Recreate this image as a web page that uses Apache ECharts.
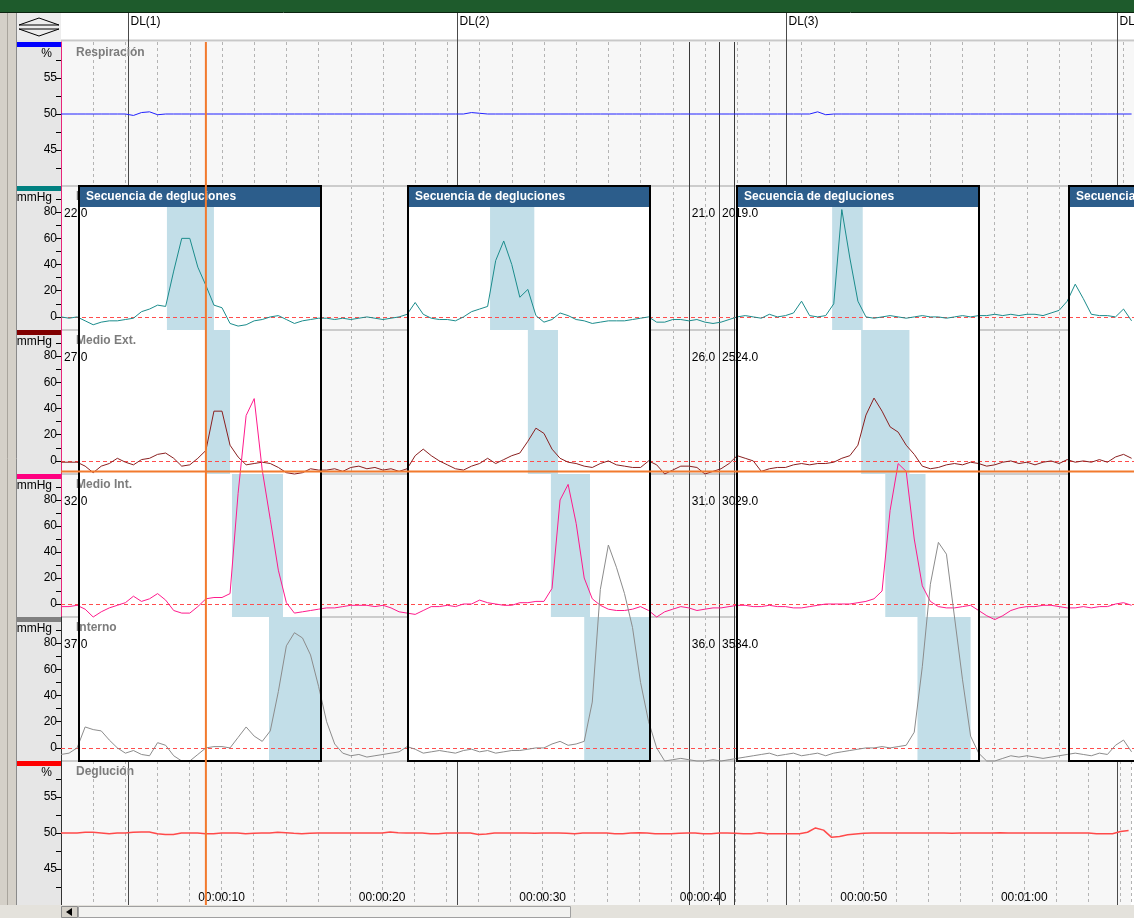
<!DOCTYPE html>
<html><head><meta charset="utf-8">
<script src="https://cdn.jsdelivr.net/npm/echarts@6/dist/echarts.min.js"></script>
<style>html,body{margin:0;padding:0;background:#fff;overflow:hidden}#c{width:1134px;height:918px}</style>
</head><body><div id="c"></div><script>
// ---- sample clock (seconds per sample) ----
const STEP = 0.5;

// ---- series values, one per 0.5 s from t = 0 to 66.5 s ----
const respiracion = [
50,50,50,50,50,50,50,50,50,49.8,
50.2,50.3,49.9,50,50,50,50,50,50,50,
50,50,50,50,50,50,50,50,50,50,
50,50,50,50,50,50,50,50,50,50,
50,50,50,50,50,50,50,50,50,50,
50,50.2,50.1,50,50,50,50,50,50,50,
50,50,50,50,50,50,50,50,50,50,
50,50,50,50,50,50,50,50,50,50,
50,50,50,50,50,50,50,50,50,50,
50,50,50,50,50.3,49.9,50,50,50,50,
50,50,50,50,50,50,50,50,50,50,
50,50,50,50,50,50,50,50,50,50,
50,50,50,50,50,50,50,50,50,50,
50,50,50,50];
const externo = [
0,-1,0,-3,-6,-4,-3,-3,-2,-1,
4,6,9,8,35,60,60,38,24,9,
7,-5,-7,-6,-3,-2,0,1,-2,-5,
-3,-2,-1,-1,-2,-1,-2,-1,0,-1,
-2,-1,0,2,11,2,-1,-2,-2,-3,
0,4,6,8,43,58,40,15,21,1,
-4,-2,3,1,-2,-3,-5,-4,-3,-3,
-3,-2,-1,0,-4,-4,-2,-2,-3,-2,
-4,-5,-4,-2,0,1,0,-1,2,0,
1,3,12,1,0,1,10,82,45,12,
0,-1,0,1,0,-1,0,1,0,0,
-1,0,1,0,1,1,2,1,2,1,
2,2,1,3,5,12,25,14,2,1,
1,0,6,-3];
const medioExt = [
-1,-1,-1,-4,-9,-4,-2,2,-1,-3,
1,2,5,6,2,-4,-3,2,8,38,
38,12,3,-3,-2,-1,-2,-5,-9,-10,
-9,-6,-7,-7,-6,-8,-5,-4,-6,-5,
-7,-6,-8,-6,4,9,4,0,-3,-6,
-7,-4,-2,2,-2,1,4,6,15,25,
21,9,2,-1,-2,-4,-5,-2,0,-3,
-4,-5,-5,0,-3,-10,-7,-4,-4,-5,
-10,-8,-6,-2,4,2,0,-8,-6,-5,
-5,-3,-2,-3,-2,-2,-1,2,4,12,
35,48,38,26,22,12,5,-4,-6,-5,
-3,-2,-3,-1,-2,-4,-3,-1,0,-2,
-1,-3,-1,0,-2,1,-1,0,-1,1,
-1,3,5,2];
const medioInt = [
-2,-2,-1,-4,-10,-6,-3,-1,1,6,
2,4,8,3,-5,-7,-7,-2,4,5,
5,8,85,145,158,103,65,26,1,-7,
-6,-5,-4,-3,-3,-2,-1,-1,-1,-2,
-1,-3,-6,-7,-8,-5,-2,-2,-1,-2,
0,0,3,1,0,-1,-1,1,1,2,
2,12,80,92,62,20,4,-1,-4,-5,
-5,-4,-2,-5,-10,-6,-4,-2,-3,-5,
-4,-3,-3,-2,-1,-1,-2,-2,-1,-2,
-2,-3,-3,-2,-1,0,0,0,0,1,
2,4,10,72,108,102,50,14,2,-2,
-3,-3,-2,-1,-5,-9,-12,-9,-5,-3,
-2,-2,-1,-1,-2,-3,-3,-2,-3,-2,
-2,0,1,-1];
const interno = [
-5,-4,0,16,14,13,6,0,-4,-2,
-5,-6,4,2,-6,-10,-10,-5,0,1,
1,0,8,16,9,5,13,43,78,88,
84,71,47,20,3,-4,-6,-5,-7,-6,
-5,-4,-3,1,-1,-4,-3,-2,-3,-4,
-2,-1,-3,-2,-4,-3,-2,-2,-1,0,
0,3,5,2,3,5,35,121,155,138,
118,92,50,20,0,-10,-9,-8,-9,-10,
-10,-9,-10,-9,-8,-7,-6,-5,-4,-6,
-5,-4,-6,-5,-4,-6,-4,-3,-2,-1,
0,0,1,0,1,2,12,62,125,157,
148,100,52,9,-4,-10,-10,-8,-6,-7,
-6,-7,-8,-7,-6,-5,-4,-5,-6,-4,
-5,2,6,-3];
const deglucion = [
50,50,50,50.1,50.1,50,49.9,50,50,50.1,
50.15,50.15,49.9,49.8,49.8,50,50,50,49.9,49.9,
50,50,50,49.9,49.95,50,50,50.1,50.05,49.95,
49.9,49.95,50,50,50,50,50,50,50,50,
50,50.15,50.05,50,50,50,49.9,49.9,50,50,
50,50,49.8,49.85,50,50,50,50,50,49.95,
50,50,50,49.95,49.9,50,50,50,50,49.9,
49.9,50,50.05,50,49.9,49.9,49.9,49.95,50,50,
49.9,49.9,50,50,49.95,49.9,49.9,50.05,49.9,49.9,
49.9,49.9,49.9,50.1,50.7,50.4,49.4,49.5,49.75,49.85,
49.95,50,50,50,50,50,50,50,50,50,
50,49.95,50,50,50,50,50,50.05,50,50,
50,50,50,50,50,50,50,50,50,49.9,
49.9,49.9,50.2,50.35];

// ---- event times (s) and texts ----
const panelNames = ['Respiración','Externo','Medio Ext.','Medio Int.','Interno','Deglución'];
const panelUnits = ['%','mmHg','mmHg','mmHg','mmHg','%'];
const seqStarts = [1.12, 21.55, 42.0, 62.6];
const seqLen = 15.05;
const seqTitle = 'Secuencia de degluciones';
const dlTimes = [4.16, 24.6, 45.03, 65.59];
const dlLabels = ['DL(1)','DL(2)','DL(3)','DL(4)'];
const cursorTimes = [39.0, 40.87, 41.8];
const cursorLabels = [['21.0','20.0','19.0'],['26.0','25.0','24.0'],['31.0','30.0','29.0'],['36.0','35.0','34.0']];
const leftLabels = ['22.0','27.0','32.0','37.0'];
const orangeTime = 9.0;
const orangeLevelMedioExt = -8;
const shadesExterno = [[6.58,9.5],[26.65,29.4],[47.9,49.8]];
const shadesMedioExt = [[9.0,10.5],[29.0,30.87],[49.7,52.7]];
const shadesMedioInt = [[10.62,13.79],[30.43,32.86],[51.2,53.7]];
const shadesInterno = [[12.92,16.15],[32.5,36.6],[53.2,56.5]];
const pctLabels = [45,50,55];
const mmHgLabels = [0,20,40,60,80];
const timeLabelEvery = 10;

// ---- layout / styles ----
const FF = '"Liberation Sans", Arial, sans-serif';
const tops = [42,186,330,474,617,761];
const heights = [144,144,144,143,144,144];
const barColors = ['#0000ff','#008080','#800000','#ff0080','#808080','#ff0000'];
const lineColors = ['#2020ff','#1b8c8c','#8a1f1f','#ff1a8c','#8c8c8c','#ff4a4a'];
const lineWidths = [1,1,1,1,1,1.5];
const seriesData = [respiracion, externo, medioExt, medioInt, interno, deglucion];
const shadeData = [null, shadesExterno, shadesMedioExt, shadesMedioInt, shadesInterno, null];
const XMAX = 66.65;

const fmtTime = v => {
  const s = Math.round(v);
  const p = n => String(n).padStart(2,'0');
  return '00:' + p(Math.floor(s/60)) + ':' + p(s%60);
};
const toPairs = arr => arr.map((v,k)=>[k*STEP, v]);

const grid = [], xAxis = [], yAxis = [], series = [];
for (let i = 0; i < 6; i++) {
  const pct = (i === 0 || i === 5);
  grid.push({left:61, top:tops[i], width:1073, height:heights[i], show:true, backgroundColor:'#f7f7f7', borderWidth:0, z:0});
  xAxis.push({
    type:'value', gridIndex:i, min:0, max:XMAX, interval:2, z:1,
    axisLine:{show:false}, axisTick:{show:false},
    axisLabel: i === 5 ? {show:true, inside:true, margin:1, color:'#000', fontSize:12, fontFamily:FF,
      formatter: v => (Math.abs(v % timeLabelEvery) < 1e-6 && v > 0) ? fmtTime(v) : ''} : {show:false},
    splitLine:{show:true, lineStyle:{color:'#b4b4b4', type:[3,3], width:1}}
  });
  yAxis.push({
    type:'value', gridIndex:i, z:3,
    min: pct ? 40 : -10, max: pct ? 60 : 100, interval: pct ? 2.5 : 10,
    axisLine:{show:true, lineStyle:{color: i <= 3 ? '#e8267a' : '#333', width:1}},
    axisTick:{show:true, length:5, inside:false, lineStyle:{color:'#000'}},
    axisLabel:{show:true, color:'#000', fontSize:12, fontFamily:FF, margin:4,
      formatter: v => (pct ? pctLabels : mmHgLabels).some(l => Math.abs(l - v) < 1e-6) ? String(v) : ''},
    splitLine:{show:false}
  });
  if (shadeData[i]) {
    series.push({
      type:'custom', xAxisIndex:i, yAxisIndex:i, z:4, silent:true, clip:false,
      data: shadeData[i].map(([a,b]) => [a,b]),
      renderItem: (params, api) => {
        const p1 = api.coord([api.value(0), 100]);
        const p2 = api.coord([api.value(1), -10]);
        return {type:'rect', shape:{x:p1[0], y:p1[1], width:p2[0]-p1[0], height:p2[1]-p1[1]},
          style:{fill:'#c2dee8'}};
      }
    });
  }
  const s = {
    type:'line', xAxisIndex:i, yAxisIndex:i, data: toPairs(seriesData[i]), z:5,
    showSymbol:false, symbol:'none', clip:false, silent:true,
    lineStyle:{color:lineColors[i], width:lineWidths[i]}
  };
  if (!pct) {
    s.markLine = {silent:true, symbol:'none', label:{show:false},
      lineStyle:{color:'#ff4d4d', type:[4,3], width:1}, data:[{yAxis:0}]};
  }
  series.push(s);
}

const chart = echarts.init(document.getElementById('c'), null, {renderer:'canvas', width:1134, height:918});
chart.setOption({animation:false, textStyle:{fontFamily:FF}, grid, xAxis, yAxis, series});

// ---- overlay drawn through the chart's own scales ----
const X = t => chart.convertToPixel({xAxisIndex:0}, t);
const Yp = (i, v) => chart.convertToPixel({yAxisIndex:i}, v);
const G = [];
const R = (x,y,w,h,fill,z,stroke,lw) => G.push({type:'rect', silent:true, z, shape:{x,y,width:w,height:h},
  style:{fill: fill || 'none', stroke: stroke || null, lineWidth: lw || 0}});
const L = (x1,y1,x2,y2,stroke,lw,z) => G.push({type:'line', silent:true, z, shape:{x1,y1,x2,y2},
  style:{stroke, lineWidth:lw}});
const T = (x,y,text,font,fill,z,align) => G.push({type:'text', silent:true, z, x, y,
  style:{text, font, fill, textAlign: align || 'left', textVerticalAlign:'middle', align: align || 'left', verticalAlign:'middle'}});
const P = (points, fill, stroke, z) => G.push({type:'polygon', silent:true, z, shape:{points},
  style:{fill: fill || 'none', stroke: stroke || null, lineWidth:1}});
const crisp = v => Math.round(v) + 0.5;

// chrome
R(0,0,1134,12,'#1e5b2c',20);
L(0,12.5,1134,12.5,'#0b2410',1,20);
R(0,12,17,906,'#d4d0c8',0);
L(7.5,12,7.5,905,'#a8a49c',1,0);
L(16.5,12,16.5,905,'#8a8a8a',1,0);
R(17,13,44,27,'#ededed',0);
P([[19,25],[39,18],[59,25]],'none','#000',1);
P([[19,29],[59,29],[39,36]],'none','#000',1);
R(17,40,44,865,'#e6e6e6',0);
L(61,40.5,1134,40.5,'#c8c8c8',2,1);
for (let i = 0; i < 6; i++) {
  R(17, tops[i], 44, 5, barColors[i], 4);
  T(52, tops[i] + 12, panelUnits[i], '12px ' + FF, '#000', 4, 'right');
  if (i > 0) L(61, tops[i], 1134, tops[i], '#cccccc', 2, 1);
}
// DL markers and cursor lines
dlTimes.forEach((t,k) => {
  const x = crisp(X(t));
  L(x, 13, x, 905, '#4a4a4a', 1, 1);
  T(x + 2, 22, dlLabels[k], '12px ' + FF, '#000', 1);
});
cursorTimes.forEach(t => { const x = crisp(X(t)); L(x, 42, x, 905, '#3a3a3a', 1, 1); });

// sequence boxes
const boxTop = Yp(1, 100), boxBot = Yp(4, -10);
seqStarts.forEach(s => {
  const x1 = Math.round(X(s)), x2 = Math.round(X(s + seqLen));
  R(x1, boxTop, x2 - x1, boxBot - boxTop, '#ffffff', 2);
  R(x1, boxTop, x2 - x1, boxBot - boxTop, 'none', 10, '#000', 2);
  R(x1 + 1, boxTop + 1, x2 - x1 - 2, 20, '#2c5d8b', 10);
  T(x1 + 7, boxTop + 11, seqTitle, 'bold 12px ' + FF, '#ffffff', 11);
});

// panel titles
for (let i = 0; i < 6; i++) T(76, tops[i] + 11, panelNames[i], 'bold 12px ' + FF, '#7c7c7c', 6);

// position readouts
for (let p = 0; p < 4; p++) {
  const y = Yp(p + 1, 79);
  T(X(0) + 3, y, leftLabels[p], '12px ' + FF, '#000', 6);
  T(X(cursorTimes[0]) + 3, y, cursorLabels[p][0], '12px ' + FF, '#000', 6);
  T(X(cursorTimes[1]) + 3, y, cursorLabels[p][1], '12px ' + FF, '#000', 1);
  T(X(cursorTimes[2]) + 1, y, cursorLabels[p][2], '12px ' + FF, '#000', 6);
}

// orange cursor
const ox = X(orangeTime);
L(ox, 42, ox, 905, '#f27a2e', 2, 12);
const oy = Yp(2, orangeLevelMedioExt);
L(61, oy, 1134, oy, '#f27a2e', 2, 12);

// scrollbar
R(0,905,1134,13,'#e4e2dc',20);
R(61.5,906.5,16,11,'#d4d0c8',21,'#8a8a8a',1);
P([[66,912],[72,908],[72,916]],'#000',null,22);
R(78.5,906.5,492,11,'#f2f2f0',21,'#a0a0a0',1);

chart.setOption({graphic:{elements:G}});
</script></body></html>
